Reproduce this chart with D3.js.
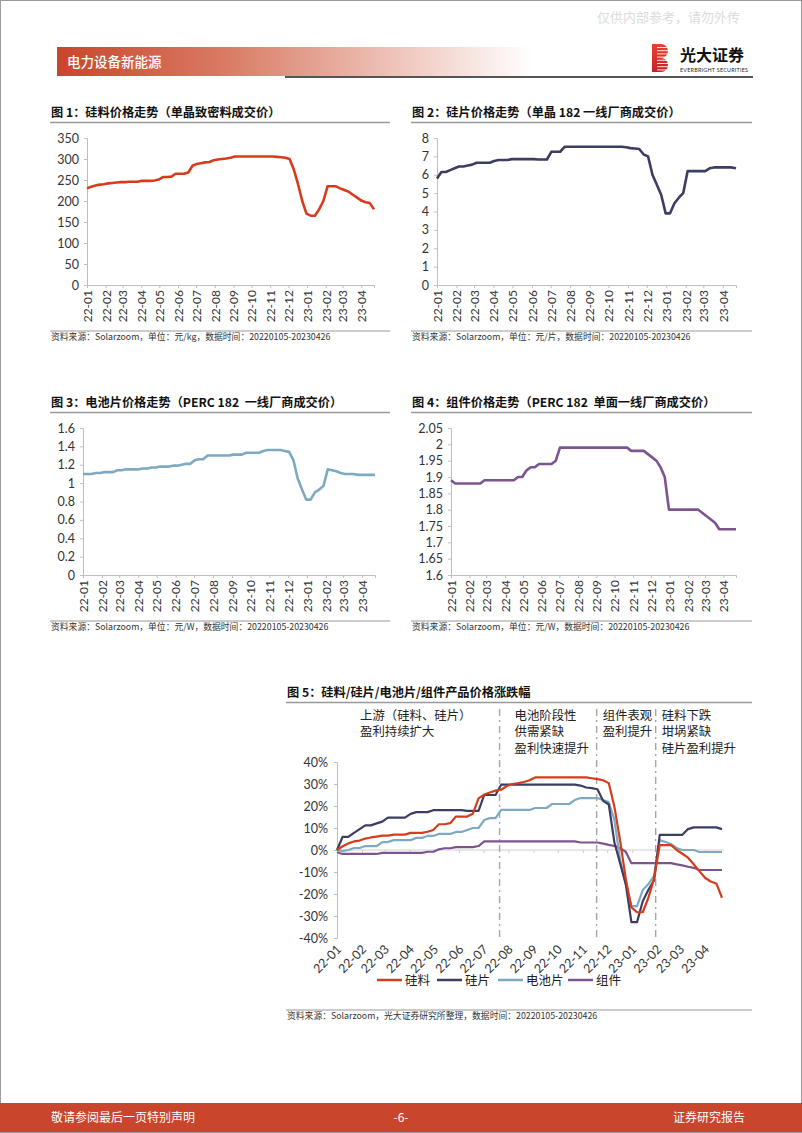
<!DOCTYPE html>
<html><head><meta charset="utf-8">
<script src="https://cdn.jsdelivr.net/npm/d3@7"></script>
<style>
body{margin:0;background:#fff}
svg{display:block}
</style></head>
<body>
<svg id="page" width="802" height="1133"></svg>
<script>
// ---------------- DATA ----------------
// weekly observations, 20220105 - 20230426 (69 weeks)
const weekStart = "2022-01-05";
const weekCount = 69;
const monthLabels = ["22-01","22-02","22-03","22-04","22-05","22-06","22-07","22-08","22-09","22-10","22-11","22-12","23-01","23-02","23-03","23-04"];

// Fig1 硅料 元/kg
const siliconPrice = [230,234,237,239,240,242,243,244,245,245, 246,246,246,248,248,248,249,251,257,257,
  258,265,265,265,268,284,288,290,292,293, 297,299,300,301,303,306,306,306,306,306,
  306,306,306,306,306,305,304,303,300,275, 240,200,170,165,165,180,200,235,235,235,
  230,226,222,215,208,201,197,195,180];
// Fig2 硅片 元/片
const waferPrice = [5.8,6.15,6.15,6.25,6.35,6.45,6.45,6.5,6.55,6.65, 6.65,6.65,6.65,6.75,6.8,6.8,6.8,6.85,6.85,6.85,
  6.85,6.85,6.85,6.83,6.83,6.83,7.25,7.25,7.25,7.52, 7.52,7.52,7.52,7.52,7.52,7.52,7.52,7.52,7.52,7.52,
  7.52,7.52,7.52,7.5,7.45,7.43,7.4,7.1,7.0,6.0, 5.45,4.9,3.9,3.9,4.45,4.75,5.0,6.2,6.2,6.2,
  6.2,6.2,6.35,6.4,6.4,6.4,6.4,6.4,6.35];
// Fig3 电池片 元/W
const cellPrice = [1.10,1.10,1.10,1.11,1.11,1.12,1.12,1.12,1.14,1.14, 1.15,1.15,1.15,1.15,1.16,1.16,1.17,1.17,1.18,1.18,
  1.18,1.19,1.19,1.20,1.21,1.21,1.25,1.26,1.26,1.30, 1.30,1.30,1.30,1.30,1.30,1.31,1.31,1.31,1.33,1.33,
  1.33,1.33,1.35,1.36,1.36,1.36,1.36,1.35,1.34,1.25, 1.05,0.93,0.82,0.82,0.90,0.93,0.97,1.15,1.14,1.13,
  1.11,1.10,1.10,1.10,1.09,1.09,1.09,1.09,1.09];
// Fig4 组件 元/W
const modulePrice = [1.89,1.88,1.88,1.88,1.88,1.88,1.88,1.88,1.89,1.89, 1.89,1.89,1.89,1.89,1.89,1.89,1.90,1.90,1.92,1.93,
  1.93,1.94,1.94,1.94,1.94,1.95,1.99,1.99,1.99,1.99, 1.99,1.99,1.99,1.99,1.99,1.99,1.99,1.99,1.99,1.99,
  1.99,1.99,1.99,1.98,1.98,1.98,1.98,1.97,1.96,1.95, 1.93,1.90,1.80,1.80,1.80,1.80,1.80,1.80,1.80,1.80,
  1.79,1.78,1.77,1.76,1.74,1.74,1.74,1.74,1.74];

// Fig5 涨跌幅 (%)
const siliconPct = [0,1.7,3.0,3.9,4.3,5.2,5.7,6.1,6.5,6.5, 7.0,7.0,7.0,7.8,7.8,7.8,8.3,9.1,11.7,11.7,
  12.2,15.2,15.2,15.2,16.5,23.5,25.2,26.1,27.0,27.4, 29.1,30.0,30.4,30.9,31.7,33.0,33.0,33.0,33.0,33.0,
  33.0,33.0,33.0,33.0,33.0,32.6,32.2,31.7,30.4,19.6, 4.3,-13.0,-26.1,-28.3,-28.3,-21.7,-13.0,2.2,2.2,2.2,
  0,-1.7,-3.5,-6.5,-9.6,-12.6,-14.3,-15.2,-21.7];
const waferPct = [0,6.0,6.0,7.8,9.5,11.2,11.2,12.1,12.9,14.7, 14.7,14.7,14.7,16.4,17.2,17.2,17.2,18.1,18.1,18.1,
  18.1,18.1,18.1,17.8,17.8,17.8,25.0,25.0,25.0,29.7, 29.7,29.7,29.7,29.7,29.7,29.7,29.7,29.7,29.7,29.7,
  29.7,29.7,29.7,29.3,28.4,28.1,27.6,22.4,20.7,3.4, -6.0,-15.5,-32.8,-32.8,-23.3,-18.1,-13.8,6.9,6.9,6.9,
  6.9,6.9,9.5,10.3,10.3,10.3,10.3,10.3,9.5];
const cellPct = [0,-0.5,0,0.9,0.9,1.8,1.8,1.8,3.6,3.6, 4.5,4.5,4.5,4.5,5.5,5.5,6.4,6.4,7.3,7.3,
  7.3,8.2,8.2,9.1,10.0,10.0,13.6,14.5,14.5,18.2, 18.2,18.2,18.2,18.2,18.2,19.1,19.1,19.1,20.9,20.9,
  20.9,20.9,22.7,23.6,23.6,23.6,23.6,22.7,21.8,13.6, -4.5,-15.5,-25.5,-25.5,-18.2,-15.5,-11.8,4.5,3.6,2.7,
  0.9,0,0,0,-0.9,-0.9,-0.9,-0.9,-0.9];
const modulePct = [-1.0,-1.8,-1.8,-1.8,-1.8,-1.8,-1.8,-1.8,-1.3,-1.3, -1.3,-1.3,-1.3,-1.3,-1.3,-1.3,-0.8,-0.8,0.3,0.8,
  0.8,1.3,1.3,1.3,1.3,1.8,3.9,3.9,3.9,3.9, 3.9,3.9,3.9,3.9,3.9,3.9,3.9,3.9,3.9,3.9,
  3.9,3.9,3.9,3.4,3.4,3.4,3.4,2.9,2.3,1.8, 0.8,-0.8,-6.0,-6.0,-6.0,-6.0,-6.0,-6.0,-6.0,-6.0,
  -6.5,-7.0,-7.6,-8.1,-9.1,-9.1,-9.1,-9.1,-9.1];

const seriesNames = ["硅料","硅片","电池片","组件"];
const seriesColors = ["#d63c1c","#3d3d63","#7eaac1","#7d548f"];

const ticks1 = [0,50,100,150,200,250,300,350];
const ticks2 = [0,1,2,3,4,5,6,7,8];
const ticks3 = [0,0.2,0.4,0.6,0.8,1,1.2,1.4,1.6];
const ticks4 = [1.6,1.65,1.7,1.75,1.8,1.85,1.9,1.95,2,2.05];
const ticks5 = [-40,-30,-20,-10,0,10,20,30,40];

const phaseDates = ["2022-07-25","2022-11-22","2023-02-03"];
const phaseNotes = [["上游（硅料、硅片）","盈利持续扩大"],["电池阶段性","供需紧缺","盈利快速提升"],["组件表观","盈利提升"],["硅料下跌","坩埚紧缺","硅片盈利提升"]];

const titles = ["图 1：硅料价格走势（单晶致密料成交价）","图 2：硅片价格走势（单晶 182 一线厂商成交价）",
  "图 3：电池片价格走势（PERC 182  一线厂商成交价）","图 4：组件价格走势（PERC 182  单面一线厂商成交价）",
  "图 5：硅料/硅片/电池片/组件产品价格涨跌幅"];
const sources = ["资料来源：Solarzoom，单位：元/kg，数据时间：20220105-20230426","资料来源：Solarzoom，单位：元/片，数据时间：20220105-20230426",
  "资料来源：Solarzoom，单位：元/W，数据时间：20220105-20230426","资料来源：Solarzoom，单位：元/W，数据时间：20220105-20230426",
  "资料来源：Solarzoom，光大证券研究所整理，数据时间：20220105-20230426"];

// ---------------- DRAW ----------------
const CJK = "'Noto Sans CJK SC','Noto Sans',sans-serif";
const NUM = "Lato,'Noto Sans CJK SC',sans-serif";
const svg = d3.select("#page");
const parse = d3.timeParse("%Y-%m-%d");
const t0 = parse(weekStart);
const dates = d3.range(weekCount).map(i => d3.timeDay.offset(t0, 7*i));
const monthDates = monthLabels.map(s => parse("20" + s + "-05"));

// page frame
svg.append("rect").attr("x",0.5).attr("y",0.5).attr("width",801).attr("height",1132).attr("fill","#fff").attr("stroke","#9a9a9a");

// header
const defs = svg.append("defs");
const hg = defs.append("linearGradient").attr("id","hdr").attr("x1","0").attr("x2","1");
hg.append("stop").attr("offset","0").attr("stop-color","#c9452b");
hg.append("stop").attr("offset","0.35").attr("stop-color","#d97a63");
hg.append("stop").attr("offset","1").attr("stop-color","#ffffff");
svg.append("rect").attr("x",57).attr("y",47).attr("width",475).attr("height",29).attr("fill","url(#hdr)");
svg.append("text").attr("x",67).attr("y",67).attr("fill","#fff").attr("font-family",CJK).attr("font-size",13.5).attr("font-weight",500).text("电力设备新能源");
svg.append("line").attr("x1",285).attr("x2",753).attr("y1",77).attr("y2",77).attr("stroke","#555").attr("stroke-width",2);
svg.append("text").attr("x",740).attr("y",22).attr("text-anchor","end").attr("fill","#dcdcdc").attr("font-family",CJK).attr("font-size",13).text("仅供内部参考，请勿外传");
// logo
const lg = defs.append("linearGradient").attr("id","logo").attr("x1","0").attr("x2","0").attr("y1","0").attr("y2","1");
lg.append("stop").attr("offset","0").attr("stop-color","#e8412e");
lg.append("stop").attr("offset","1").attr("stop-color","#c8202a");
svg.append("path").attr("d","M652,44 h9 a7,7 0 0 1 0,14 a7,7 0 0 1 0,14 h-9 z").attr("fill","url(#logo)");
for (let k = 0; k < 8; k++) {
  svg.append("line").attr("x1",657).attr("x2",670).attr("y1",47.5+k*3.2).attr("y2",47.5+k*3.2).attr("stroke","#fff").attr("stroke-width",0.9);
}
svg.append("text").attr("x",680).attr("y",61).attr("font-family",CJK).attr("font-size",16).attr("font-weight",700).attr("fill","#111").text("光大证券");
svg.append("text").attr("x",680).attr("y",71.5).attr("font-family",NUM).attr("font-size",5.4).attr("fill","#222").attr("textLength",68).text("EVERBRIGHT SECURITIES");

// footer
svg.append("rect").attr("x",0).attr("y",1103).attr("width",802).attr("height",29).attr("fill","#c9452b");
svg.append("text").attr("x",51).attr("y",1122).attr("fill","#fff").attr("font-family",CJK).attr("font-size",12).text("敬请参阅最后一页特别声明");
svg.append("text").attr("x",401).attr("y",1122).attr("text-anchor","middle").attr("fill","#fff").attr("font-family",CJK).attr("font-size",12).text("-6-");
svg.append("text").attr("x",745).attr("y",1122).attr("text-anchor","end").attr("fill","#fff").attr("font-family",CJK).attr("font-size",12).text("证券研究报告");

function styleAxis(sel) {
  sel.select(".domain").attr("stroke","#bfbfbf");
  sel.selectAll(".tick line").attr("stroke","#bfbfbf");
  sel.selectAll("text").attr("fill","#333").attr("font-family",NUM).attr("font-size",12.5);
}

function frame(tx, ty, tw, title, srcY, src) {
  svg.append("text").attr("x",tx+1).attr("y",ty).attr("font-family",CJK).attr("font-size",12.2).attr("font-weight",700)
    .attr("fill","#111").style("white-space","pre").text(title);
  svg.append("line").attr("x1",tx).attr("x2",tx+tw).attr("y1",ty+5.5).attr("y2",ty+5.5).attr("stroke","#999").attr("stroke-width",1.5);
  svg.append("line").attr("x1",tx).attr("x2",tx+tw).attr("y1",srcY-9).attr("y2",srcY-9).attr("stroke","#999").attr("stroke-width",1);
  svg.append("text").attr("x",tx+1).attr("y",srcY).attr("font-family",CJK).attr("font-size",8.8).attr("fill","#333").text(src);
}

function panel(o) {
  const x = d3.scaleTime().domain([dates[0], dates[weekCount-1]]).range([o.x0, o.x1]);
  const y = d3.scaleLinear().domain([o.ticks[0], o.ticks[o.ticks.length-1]]).range([o.yb, o.yt]);
  const g = svg.append("g");
  g.append("g").attr("transform",`translate(${o.x0},0)`)
    .call(d3.axisLeft(y).tickValues(o.ticks).tickFormat(d3.format("~g")).tickSize(3).tickPadding(5))
    .call(styleAxis);
  const xg = g.append("g").attr("transform",`translate(0,${o.yb})`)
    .call(d3.axisBottom(x).tickValues(monthDates).tickFormat((d,i)=>monthLabels[i]).tickSize(3).tickPadding(3))
    .call(styleAxis);
  xg.selectAll(".tick text").attr("transform","rotate(-90)").attr("text-anchor","end")
    .attr("x",-5).attr("y",0).attr("dy","0.36em").attr("font-size",12);
  g.append("path").datum(o.values).attr("fill","none").attr("stroke",o.color).attr("stroke-width",2.6)
    .attr("stroke-linejoin","round")
    .attr("d", d3.line().x((d,i)=>x(dates[i])).y(d=>y(d)));
}

frame(50,117,340,titles[0],340,sources[0]);
panel({x0:87,x1:374,yt:138,yb:285,ticks:ticks1,values:siliconPrice,color:seriesColors[0]});
frame(411,117,341,titles[1],340,sources[1]);
panel({x0:437,x1:736,yt:138,yb:285,ticks:ticks2,values:waferPrice,color:seriesColors[1]});
frame(50,407,340,titles[2],630,sources[2]);
panel({x0:83,x1:375,yt:428,yb:575,ticks:ticks3,values:cellPrice,color:seriesColors[2]});
frame(411,407,341,titles[3],630,sources[3]);
panel({x0:451,x1:736,yt:428,yb:575,ticks:ticks4,values:modulePrice,color:seriesColors[3]});

// ---- Figure 5 ----
frame(286,697,466,titles[4],1019,sources[4]);
{
  const x = d3.scaleTime().domain([dates[0], dates[weekCount-1]]).range([337, 722]);
  const y = d3.scaleLinear().domain([-40,40]).range([938, 762]);
  const g = svg.append("g");
  g.append("g").attr("transform","translate(337,0)")
    .call(d3.axisLeft(y).tickValues(ticks5).tickFormat(d=>d+"%").tickSize(3).tickPadding(6))
    .call(styleAxis);
  const zx = g.append("g").attr("transform",`translate(0,${y(0)})`)
    .call(d3.axisBottom(x).tickValues(monthDates).tickSize(3).tickFormat(""));
  zx.select(".domain").attr("stroke","#d0d0d0").attr("d",`M337,0H724`);
  zx.selectAll(".tick line").attr("stroke","#d0d0d0");
  // bottom labels
  g.selectAll("text.xl").data(monthDates).join("text").attr("class","xl")
    .attr("transform",(d)=>`translate(${x(d)+2},${y(-40)+9}) rotate(-45)`)
    .attr("text-anchor","end").attr("dy","0.36em")
    .attr("font-family",NUM).attr("font-size",12.5).attr("fill","#333")
    .text((d,i)=>monthLabels[i]);
  // phase lines
  g.selectAll("line.ph").data(phaseDates.map(parse)).join("line").attr("class","ph")
    .attr("x1",d=>x(d)).attr("x2",d=>x(d)).attr("y1",709).attr("y2",y(-40))
    .attr("stroke","#a6a6a6").attr("stroke-width",1.4).attr("stroke-dasharray","7,4,2,4");
  // notes
  const noteX = [360, x(parse(phaseDates[0]))+15, x(parse(phaseDates[1]))+6, x(parse(phaseDates[2]))+6];
  phaseNotes.forEach((lines, k) => {
    lines.forEach((s, j) => {
      g.append("text").attr("x",noteX[k]).attr("y",720 + j*16.3).attr("font-family",CJK).attr("font-size",12.4).attr("fill","#222").text(s);
    });
  });
  const pcts = [siliconPct, waferPct, cellPct, modulePct];
  const order = [3,2,1,0];
  order.forEach(k => {
    g.append("path").datum(pcts[k]).attr("fill","none").attr("stroke",seriesColors[k]).attr("stroke-width",2.2)
      .attr("stroke-linejoin","round")
      .attr("d", d3.line().x((d,i)=>x(dates[i])).y(d=>y(d)));
  });
  // legend
  const legX = [377, 437, 498, 568];
  seriesNames.forEach((n, k) => {
    g.append("line").attr("x1",legX[k]).attr("x2",legX[k]+25).attr("y1",980).attr("y2",980).attr("stroke",seriesColors[k]).attr("stroke-width",2.5);
    g.append("text").attr("x",legX[k]+28).attr("y",984.5).attr("font-family",CJK).attr("font-size",12.5).attr("fill","#222").text(n);
  });
}
</script>
</body></html>
